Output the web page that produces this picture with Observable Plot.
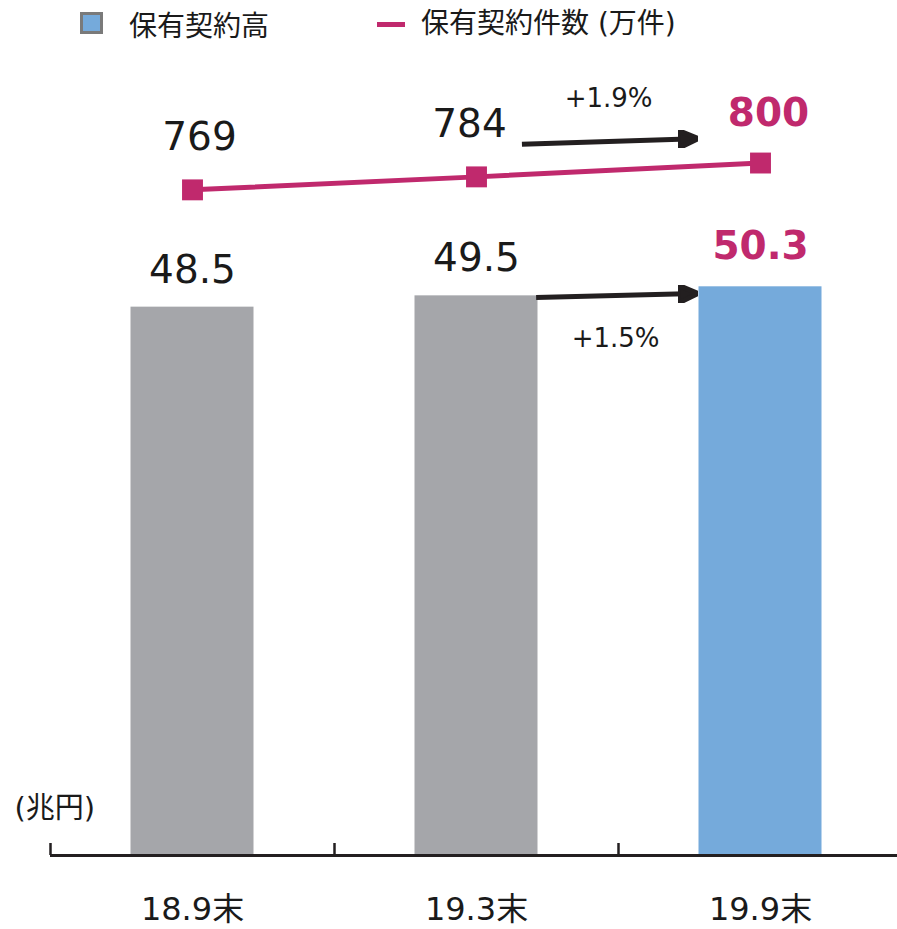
<!DOCTYPE html>
<html><head><meta charset="utf-8">
<script src="https://cdn.jsdelivr.net/npm/d3@7"></script>
<script src="https://cdn.jsdelivr.net/npm/@observablehq/plot@0.6"></script>
<style>
body{margin:0;background:#fff;font-family:"DejaVu Sans","Noto Sans CJK JP",sans-serif;color:#1a1a1a;}
#legend{position:relative;height:50px;width:897px;}
#legend .sw{position:absolute;box-sizing:border-box;}
#legend .lt{position:absolute;font-family:"DejaVu Sans","Noto Sans CJK JP",sans-serif;font-size:28px;line-height:28px;white-space:nowrap;}
</style></head>
<body>
<div id="legend"></div>
<div id="chart"></div>
<script>
// ---- data ----
const categories = ["18.9末", "19.3末", "19.9末"];
const amounts = [48.5, 49.5, 50.3];      // 保有契約高 (兆円)
const counts = [769, 784, 800];          // 保有契約件数 (万件)
const seriesNames = ["保有契約高", "保有契約件数 (万件)"];
const unitLabel = "(兆円)";
const changeLabels = ["+1.9%", "+1.5%"];
// ---- styles ----
const barColors = ["#a5a6aa", "#a5a6aa", "#75aadb"];
const labelColors = ["#1a1a1a", "#1a1a1a", "#c0296d"];
const highlight = [false, false, true];
const magenta = "#c0296d";
const ink = "#1a1a1a";
const axisInk = "#231f20";
const yMax = 71.2;      // amount scale top
const countMax = 930;   // count scale top (secondary, zero-based)
const k = yMax / countMax;

// annotation arrows (x in category units, y in amount units)
const changes = [
  {label: changeLabels[0], x1: 1.66, y1: 62.9, x2: 2.27, y2: 63.4, side: -1},
  {label: changeLabels[1], x1: 1.71, y1: 49.35, x2: 2.27, y2: 49.7, side: 1}
];

const data = categories.map((c, i) => ({
  cat: c, i, amount: amounts[i], count: counts[i],
  barColor: barColors[i], labelColor: labelColors[i], hi: highlight[i]
}));

// ---- legend ----
const legend = document.getElementById("legend");
legend.innerHTML = `
  <div class="sw" style="left:80px;top:12px;width:23px;height:22px;background:${barColors[2]};border:3px solid #7a7a7a;"></div>
  <div class="lt" style="left:129px;top:13px;">${seriesNames[0]}</div>
  <div class="sw" style="left:377px;top:22px;width:28px;height:5px;background:${magenta};"></div>
  <div class="lt" style="left:421px;top:10px;">${seriesNames[1]}</div>`;

function arrowHead(color, context) {
  const ns = "http://www.w3.org/2000/svg";
  const doc = (context && context.document) || document;
  const m = doc.createElementNS(ns, "marker");
  m.setAttribute("viewBox", "0 -9 20 18");
  m.setAttribute("markerWidth", "20");
  m.setAttribute("markerHeight", "18");
  m.setAttribute("markerUnits", "userSpaceOnUse");
  m.setAttribute("refX", "17");
  m.setAttribute("refY", "0");
  m.setAttribute("orient", "auto");
  const p = doc.createElementNS(ns, "path");
  p.setAttribute("d", "M0,-9L20,0L0,9Z");
  p.setAttribute("fill", color);
  m.appendChild(p);
  return m;
}

const numFont = "'DejaVu Sans', 'Noto Sans CJK JP', sans-serif";
const tickLen = 12 / (805 / yMax);
const countDx = [7, -7, 8];

const chart = Plot.plot({
  width: 897, height: 879,
  marginTop: 0, marginRight: 0, marginBottom: 74, marginLeft: 50,
  x: {domain: [0, 3], range: [50, 902], axis: null},
  y: {domain: [0, yMax], axis: null},
  color: {type: "identity"},
  style: {fontFamily: numFont, background: "white", overflow: "visible", color: ink},
  marks: [
    Plot.rect(data, {x1: d => d.i, x2: d => d.i + 1, y1: () => 0, y2: "amount",
      fill: "barColor", insetLeft: 80.5, insetRight: 80.5}),
    Plot.ruleY([0], {stroke: axisInk, strokeWidth: 3}),
    Plot.ruleX([0, 1, 2], {y1: () => 0, y2: () => tickLen, stroke: axisInk, strokeWidth: 2.5}),
    Plot.text(data, {x: d => d.i + 0.5, y: () => 0, text: "cat", dy: 54, fontSize: 32, fill: ink}),
    Plot.text([unitLabel], {x: () => 0, y: () => 0, text: d => d, textAnchor: "start", dx: -36, dy: -47, fontSize: 29, fill: ink}),
    // bar value labels
    Plot.text(data, {filter: d => !d.hi, x: d => d.i + 0.5, y: "amount", text: d => d.amount.toFixed(1),
      dy: -37, fontSize: 39, fill: "labelColor"}),
    Plot.text(data, {filter: d => d.hi, x: d => d.i + 0.5, y: "amount", text: d => d.amount.toFixed(1),
      dy: -40, fontSize: 39, fontWeight: "bold", fill: "labelColor"}),
    // count line
    Plot.line(data, {x: d => d.i + 0.5, y: d => d.count * k, stroke: magenta, strokeWidth: 5}),
    Plot.dot(data, {x: d => d.i + 0.5, y: d => d.count * k, symbol: "square", r: 11.8, fill: magenta}),
    ...data.map(d => Plot.text([d], {x: d => d.i + 0.5, y: d => d.count * k, text: d => String(d.count),
      dy: d.hi ? -50 : -52, dx: countDx[d.i], fontSize: 39, fontWeight: d.hi ? "bold" : "normal", fill: "labelColor"})),
    // change arrows
    Plot.link(changes, {x1: "x1", y1: "y1", x2: "x2", y2: "y2", stroke: axisInk, strokeWidth: 5, markerEnd: arrowHead}),
    Plot.text(changes.filter(d => d.side < 0), {x: d => (d.x1 + d.x2) / 2, y: d => (d.y1 + d.y2) / 2, text: "label",
      dy: -43, fontSize: 26, fill: ink}),
    Plot.text(changes.filter(d => d.side > 0), {x: d => (d.x1 + d.x2) / 2, y: d => (d.y1 + d.y2) / 2, text: "label",
      dy: 43, fontSize: 26, fill: ink})
  ]
});
document.getElementById("chart").appendChild(chart);
</script>
</body></html>
